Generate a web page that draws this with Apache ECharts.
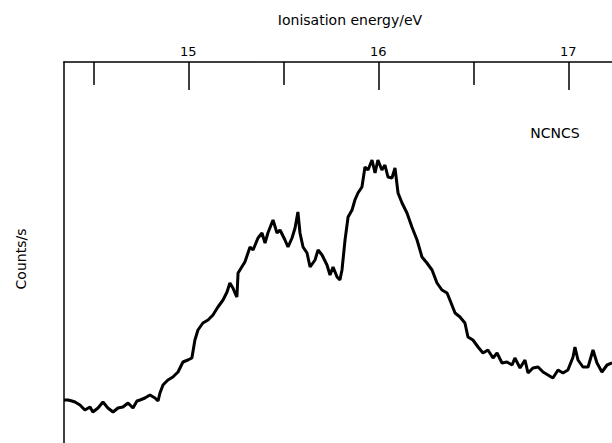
<!DOCTYPE html>
<html>
<head>
<meta charset="utf-8">
<script src="https://cdn.jsdelivr.net/npm/echarts@6/dist/echarts.min.js"></script>
<style>
html,body{margin:0;padding:0;background:#fff;}
#chart{width:612px;height:443px;}
</style>
</head>
<body>
<div id="chart"></div>
<script>
// Ionisation energy (eV)
const energy = [
14.346,14.367,14.388,14.404,14.430,14.456,14.483,14.498,14.525,14.551,
14.577,14.604,14.630,14.656,14.683,14.709,14.730,14.746,14.772,14.798,
14.825,14.841,14.851,14.867,14.877,14.893,14.919,14.946,14.972,14.998,
15.019,15.035,15.051,15.077,15.104,15.130,15.156,15.183,15.204,15.219,
15.235,15.246,15.256,15.262,15.288,15.298,15.325,15.341,15.367,15.388,
15.404,15.419,15.446,15.467,15.483,15.509,15.525,15.546,15.562,15.577,
15.588,15.604,15.625,15.641,15.667,15.683,15.704,15.730,15.746,15.762,
15.783,15.798,15.809,15.825,15.841,15.862,15.877,15.893,15.914,15.930,
15.946,15.967,15.983,15.998,16.019,16.035,16.051,16.072,16.088,16.104,
16.125,16.151,16.177,16.204,16.230,16.256,16.283,16.309,16.335,16.362,
16.377,16.404,16.430,16.456,16.472,16.498,16.525,16.551,16.577,16.604,
16.625,16.651,16.677,16.704,16.719,16.746,16.772,16.788,16.814,16.841,
16.867,16.893,16.919,16.946,16.972,16.998,17.025,17.035,17.051,17.077,
17.104,17.130,17.151,17.177,17.204,17.230
];
// Counts/s (arbitrary units)
const counts = [
43,43,42,41,38,33,36,31,35,41,
35,31,35,36,40,35,42,43,45,48,
45,42,50,58,60,63,66,71,81,83,
85,103,113,120,123,128,136,143,151,160,
155,150,146,170,178,181,196,193,205,210,
200,210,223,210,213,203,196,205,215,231,
210,196,190,176,183,193,188,178,168,176,
166,163,173,203,226,233,243,250,256,276,
273,283,270,283,273,278,266,265,275,250,
240,230,216,203,186,180,173,160,153,150,
143,130,126,120,106,103,96,90,93,85,
90,80,81,78,85,75,83,70,75,76,
71,68,65,73,70,73,86,96,83,76,
76,93,80,71,78,80
];
const majorTicks = [15, 16, 17];
const minorTicks = [14.5, 15.5, 16.5];
const xTitle = 'Ionisation energy/eV';
const yTitle = 'Counts/s';
const sampleLabel = 'NCNCS';

const xMin = 14.346, xMax = 17.23;
const seriesData = energy.map((e, i) => [e, counts[i]]);
const FONT = 'DejaVu Sans';

const chart = echarts.init(document.getElementById('chart'), null, {renderer: 'svg'});
chart.setOption({
  animation: false,
  backgroundColor: '#fff',
  grid: {left: 64, top: 62, right: 0, bottom: 0, containLabel: false},
  xAxis: [
    {
      type: 'value', position: 'top', min: xMin, max: xMax,
      axisLine: {show: true, onZero: false, lineStyle: {color: '#000', width: 1.5}},
      axisTick: {show: true, inside: true, length: 28, lineStyle: {color: '#000', width: 1.5}, customValues: majorTicks},
      axisLabel: {show: true, customValues: majorTicks, color: '#000', fontFamily: FONT, fontSize: 13, margin: 4},
      splitLine: {show: false}
    },
    {
      type: 'value', position: 'top', min: xMin, max: xMax,
      axisLine: {show: false, onZero: false},
      axisTick: {show: true, inside: true, length: 23, lineStyle: {color: '#000', width: 1.5}, customValues: minorTicks},
      axisLabel: {show: false},
      splitLine: {show: false}
    }
  ],
  yAxis: {
    type: 'value', min: 0, max: 381,
    axisLine: {show: true, onZero: false, lineStyle: {color: '#000', width: 1.5}},
    axisTick: {show: false}, axisLabel: {show: false}, splitLine: {show: false}
  },
  graphic: [
    {type: 'text', x: 350, y: 20, style: {text: xTitle, fill: '#000', font: '14px "DejaVu Sans"', align: 'center', verticalAlign: 'middle'}},
    {type: 'text', x: 21, y: 259, rotation: Math.PI / 2, style: {text: yTitle, fill: '#000', font: '14px "DejaVu Sans"', align: 'center', verticalAlign: 'middle'}},
    {type: 'text', x: 555, y: 133, style: {text: sampleLabel, fill: '#000', font: '14px "DejaVu Sans"', align: 'center', verticalAlign: 'middle'}}
  ],
  series: [{
    type: 'line', xAxisIndex: 0, data: seriesData, showSymbol: false, smooth: false,
    lineStyle: {color: '#000', width: 3}, clip: true
  }]
});
</script>
</body>
</html>
